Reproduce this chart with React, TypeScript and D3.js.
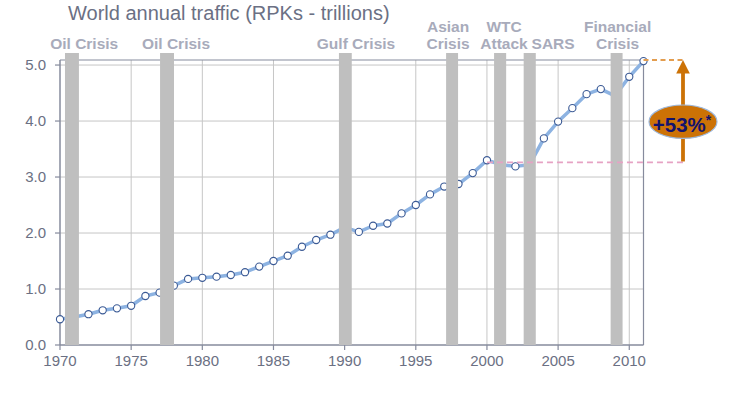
import React from "react";
import * as d3 from "d3";

const years = [1970, 1971, 1972, 1973, 1974, 1975, 1976, 1977, 1978, 1979, 1980, 1981, 1982, 1983, 1984, 1985, 1986, 1987, 1988, 1989, 1990, 1991, 1992, 1993, 1994, 1995, 1996, 1997, 1998, 1999, 2000, 2001, 2002, 2003, 2004, 2005, 2006, 2007, 2008, 2009, 2010, 2011];
const rpk = [0.46, 0.5, 0.55, 0.62, 0.655, 0.7, 0.875, 0.935, 1.06, 1.18, 1.2, 1.22, 1.25, 1.3, 1.4, 1.5, 1.595, 1.755, 1.875, 1.97, 2.1, 2.02, 2.13, 2.17, 2.35, 2.5, 2.69, 2.83, 2.875, 3.07, 3.3, 3.22, 3.19, 3.22, 3.69, 3.99, 4.23, 4.48, 4.57, 4.45, 4.79, 5.07];

const xTicks = [1970, 1975, 1980, 1985, 1990, 1995, 2000, 2005, 2010];
const yTicks = [0, 1, 2, 3, 4, 5];

const crisisStart = [1970.35, 1977.03, 1989.6, 1997.13, 2000.5, 2002.58, 2008.69];
const crisisEnd = [1971.33, 1978.01, 1990.5, 1997.97, 2001.35, 2003.43, 2009.53];
const crisisLabelX = [1971.7, 1978.15, 1990.8, 1997.27, 2001.2, 2004.65, 2009.18];
const crisisLabels = [["Oil Crisis"], ["Oil Crisis"], ["Gulf Crisis"], ["Asian", "Crisis"], ["WTC", "Attack"], ["SARS"], ["Financial", "Crisis"]];

const refLow = 3.26;
const refHigh = 5.09;
const growthLabel = "+53%";

const FONT = "'Liberation Sans', Arial, sans-serif";

export default function App() {
  const left = 60, right = 643.5, top = 60, bottom = 345;
  const x = d3.scaleLinear().domain([1970, 2011]).range([left, right]);
  const y = d3.scaleLinear().domain([0, refHigh]).range([bottom, top]);
  const data = years.map((yr, i) => ({ yr, v: rpk[i] }));
  const line = d3.line<{ yr: number; v: number }>().x(d => x(d.yr)).y(d => y(d.v));
  const arrowX = right + 39.5;
  const frame = "#868b9d";
  const tickColor = "#6b7083";
  const orange = "#cc7206";

  return (
    <svg width={733} height={408} style={{ position: "absolute", left: 0, top: 0, background: "#fff" }} fontFamily={FONT}>
      <text x={68} y={20} fontSize={20} fill="#6b7084">World annual traffic (RPKs - trillions)</text>
      {/* gridlines */}
      {yTicks.filter(t => t > 0).map(t => (
        <line key={"gy" + t} x1={left} x2={right} y1={y(t)} y2={y(t)} stroke="#c6c6c6" strokeWidth={1} />
      ))}
      {xTicks.filter(t => t > 1970).map(t => (
        <line key={"gx" + t} x1={x(t)} x2={x(t)} y1={top} y2={bottom} stroke="#c6c6c6" strokeWidth={1} />
      ))}
      {/* frame */}
      <line x1={left} x2={right} y1={top} y2={top} stroke={frame} strokeWidth={1.2} />
      <line x1={right} x2={right} y1={top} y2={bottom} stroke={frame} strokeWidth={1.2} />
      <line x1={left} x2={left} y1={top} y2={bottom} stroke={frame} strokeWidth={1.5} />
      <line x1={left} x2={right} y1={bottom} y2={bottom} stroke={frame} strokeWidth={1.5} />
      {yTicks.map(t => (
        <g key={"yt" + t}>
          <line x1={left - 5} x2={left} y1={y(t)} y2={y(t)} stroke={frame} strokeWidth={1.2} />
          <text x={46} y={y(t)} dy="0.35em" textAnchor="end" fontSize={15} fill={tickColor}>{t.toFixed(1)}</text>
        </g>
      ))}
      {xTicks.map(t => (
        <g key={"xt" + t}>
          <line x1={x(t)} x2={x(t)} y1={bottom} y2={bottom + 5} stroke={frame} strokeWidth={1.2} />
          <text x={x(t)} y={366} textAnchor="middle" fontSize={15} fill={tickColor}>{t}</text>
        </g>
      ))}
      {/* series */}
      <path d={line(data) || ""} fill="none" stroke="#8db3e2" strokeWidth={3.5} strokeLinejoin="round" />
      {data.map(d => (
        <circle key={"p" + d.yr} cx={x(d.yr)} cy={y(d.v)} r={3.6} fill="#fff" stroke="#3b5a95" strokeWidth={1.1} />
      ))}
      {/* crisis bars */}
      {crisisStart.map((s, i) => (
        <rect key={"cb" + i} x={x(s)} y={53} width={x(crisisEnd[i]) - x(s)} height={bottom - 53} fill="#bfbfbf" />
      ))}
      {crisisLabels.map((lines, i) => (
        <text key={"cl" + i} x={x(crisisLabelX[i])} textAnchor="middle" fontSize={15.5} fontWeight="bold" fill="#a8abbb">
          {lines.map((ln, j) => (
            <tspan key={j} x={x(crisisLabelX[i])} y={49 - (lines.length - 1 - j) * 17}>{ln}</tspan>
          ))}
        </text>
      ))}
      {/* annotations */}
      <line x1={x(2000)} x2={arrowX} y1={y(refLow)} y2={y(refLow)} stroke="#e6a2c4" strokeWidth={1.8} strokeDasharray="6,4" />
      <line x1={x(2011)} x2={arrowX} y1={y(refHigh)} y2={y(refHigh)} stroke="#e39d4f" strokeWidth={1.8} strokeDasharray="5,3.5" />
      <line x1={arrowX} x2={arrowX} y1={y(refLow) - 1} y2={y(refHigh) + 12} stroke={orange} strokeWidth={3.8} />
      <path d={`M${arrowX},${y(refHigh)} L${arrowX - 6.8},${y(refHigh) + 13.5} L${arrowX + 6.8},${y(refHigh) + 13.5} Z`} fill={orange} />
      <ellipse cx={arrowX} cy={121.7} rx={34} ry={16.7} fill={orange} stroke="#9db8dc" strokeWidth={1.2} />
      <text x={arrowX - 1} y={131.5} textAnchor="middle" fontSize={20.5} fontWeight="bold" fill="#12126e">
        {growthLabel}<tspan fontSize={14} dy={-7}>*</tspan>
      </text>
    </svg>
  );
}
